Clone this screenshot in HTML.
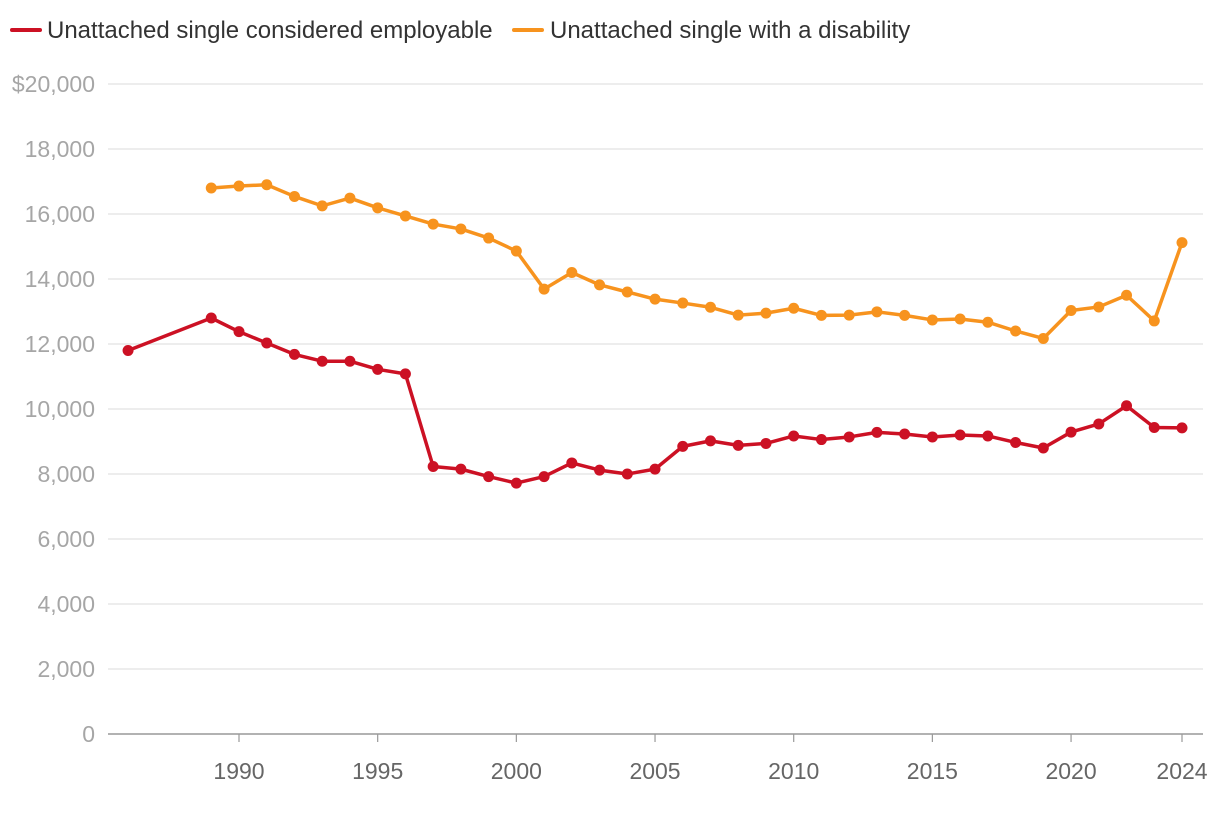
<!DOCTYPE html>
<html><head><meta charset="utf-8"><style>
body{margin:0;background:#fff;font-family:"Liberation Sans",sans-serif}
</style></head><body>
<svg width="1220" height="810">
<g font-size="24" fill="#333">
<g><line x1="12" y1="30" x2="40" y2="30" stroke="#cc1124" stroke-width="4" stroke-linecap="round"/><text x="47" y="38">Unattached single considered employable</text></g>
<g><line x1="514" y1="30" x2="542" y2="30" stroke="#f7931e" stroke-width="4" stroke-linecap="round"/><text x="550" y="38">Unattached single with a disability</text></g>
</g>
<g id="grid"></g>
<g id="ylab" font-size="23" fill="#a6a6a6" text-anchor="end"></g>
<g id="xlab" font-size="23" fill="#666" text-anchor="middle"></g>
<g id="series"></g>
</svg>
<script>
const years=[1986,1989,1990,1991,1992,1993,1994,1995,1996,1997,1998,1999,2000,2001,2002,2003,2004,2005,2006,2007,2008,2009,2010,2011,2012,2013,2014,2015,2016,2017,2018,2019,2020,2021,2022,2023,2024];
const employable=[11800,12800,12380,12030,11680,11470,11470,11220,11080,8230,8150,7920,7720,7920,8340,8120,8000,8150,8850,9020,8880,8940,9170,9060,9140,9280,9230,9140,9200,9170,8970,8800,9290,9540,10100,9430,9420];
const disYears=years.slice(1);
const disability=[16800,16860,16900,16540,16250,16490,16190,15940,15690,15540,15260,14860,13690,14200,13820,13600,13380,13260,13130,12890,12950,13100,12880,12890,12990,12880,12740,12770,12670,12400,12170,13030,13140,13500,12710,15120];
const yTicks=[0,2000,4000,6000,8000,10000,12000,14000,16000,18000,20000];
const yTickLabels=["0","2,000","4,000","6,000","8,000","10,000","12,000","14,000","16,000","18,000","$20,000"];
const xTicks=[1990,1995,2000,2005,2010,2015,2020,2024];
const NS="http://www.w3.org/2000/svg";
const x=v=>239+(v-1990)*(1182-239)/34;
const y=v=>734-v*650/20000;
function mk(t,a,p){const e=document.createElementNS(NS,t);for(const k in a)e.setAttribute(k,a[k]);p.appendChild(e);return e;}
const grid=document.getElementById('grid'),yl=document.getElementById('ylab'),xl=document.getElementById('xlab'),ser=document.getElementById('series');
yTicks.forEach((t,i)=>{
 const l=mk('line',{x1:108,x2:1203,y1:y(t),y2:y(t),stroke:t===0?'#999':'#e2e2e2','stroke-width':t===0?1.5:1.2},grid);
 
 
 const tx=mk('text',{x:95,y:y(t)+8},yl);tx.textContent=yTickLabels[i];
 
 
});
xTicks.forEach(t=>{
 const tk=mk('line',{x1:x(t),x2:x(t),y1:734,y2:742,stroke:'#999','stroke-width':1.2},grid);
 
 
 const tx=mk('text',{x:x(t),y:779},xl);tx.textContent=t;
 
 
});
function draw(xs,vs,c,name){
 const g=mk('g',{},ser);
 
 
 const p=mk('polyline',{points:xs.map((v,i)=>x(v)+','+y(vs[i])).join(' '),fill:'none',stroke:c,'stroke-width':3.5,'stroke-linejoin':'round'},g);
 
 
 xs.forEach((v,i)=>{const d=mk('circle',{cx:x(v),cy:y(vs[i]),r:5.5,fill:c},g);
 
 });
}
draw(disYears,disability,'#f7931e','disability-series');
draw(years,employable,'#cc1124','employable-series');
</script>
</body></html>
